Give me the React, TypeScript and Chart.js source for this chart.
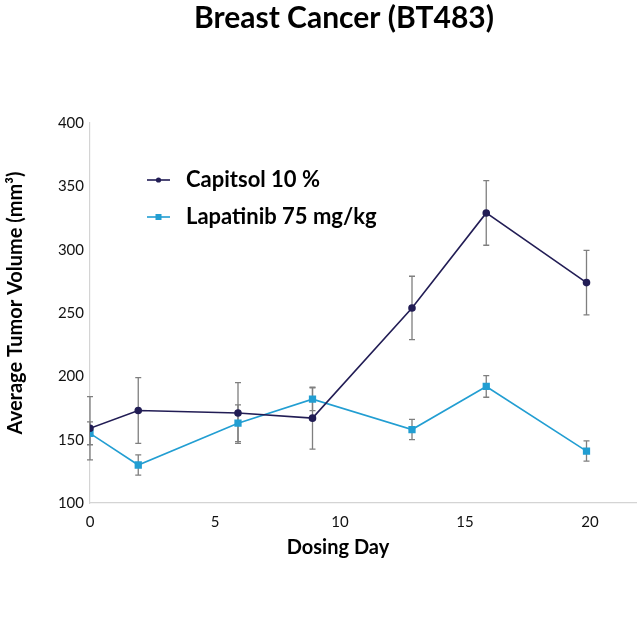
import React, { useEffect, useRef } from "react";
import { Chart, registerables } from "chart.js";

Chart.register(...registerables);

const days = [0, 1.93, 5.92, 8.9, 12.88, 15.85, 19.86];
const capitsolMean = [159, 173, 171, 167, 254, 329, 274];
const capitsolErr = [25, 26, 24, 24.5, 25, 25.5, 25.5];
const lapatinibMean = [155, 130, 163, 182, 158, 192, 141];
const lapatinibErr = [9, 8, 14.5, 9, 8, 8.5, 8];
const xTicks = [0, 5, 10, 15, 20];
const yTicks = [100, 150, 200, 250, 300, 350, 400];
const seriesNames = ["Capitsol 10 %", "Lapatinib 75 mg/kg"];
const titleText = "Breast Cancer (BT483)";
const xTitle = "Dosing Day";
const yTitle = "Average Tumor Volume (mm³)";

const NAVY = "#221d55";
const BLUE = "#229ed2";
const FONT = "Lato, 'Open Sans', sans-serif";

const errs = [capitsolErr, lapatinibErr];

const overlay = {
  id: "overlay",
  beforeDatasetsDraw(chart: any) {
    const ctx = chart.ctx;
    const xs = chart.scales.x;
    const ys = chart.scales.y;
    ctx.save();
    ctx.strokeStyle = "#7f7f7f";
    ctx.lineWidth = 1.3;
    chart.data.datasets.forEach((ds: any, di: number) => {
      ds.data.forEach((p: any, i: number) => {
        const x = xs.getPixelForValue(p.x);
        const yt = ys.getPixelForValue(p.y + errs[di][i]);
        const yb = ys.getPixelForValue(p.y - errs[di][i]);
        ctx.beginPath();
        ctx.moveTo(x, yt);
        ctx.lineTo(x, yb);
        ctx.moveTo(x - 3, yt);
        ctx.lineTo(x + 3, yt);
        ctx.moveTo(x - 3, yb);
        ctx.lineTo(x + 3, yb);
        ctx.stroke();
      });
    });
    ctx.restore();
  },
  afterDraw(chart: any) {
    const ctx = chart.ctx;
    ctx.save();
    ctx.fillStyle = "#000";
    ctx.textAlign = "center";
    ctx.textBaseline = "middle";
    ctx.font = `bold 30px ${FONT}`;
    ctx.fillText(titleText, 344, 18);
    ctx.font = `bold 20px ${FONT}`;
    ctx.fillText(xTitle, 338, 548);
    ctx.save();
    ctx.translate(16, 303);
    ctx.rotate(-Math.PI / 2);
    ctx.fillText(yTitle, 0, 0);
    ctx.restore();

    // legend
    const items = [
      { name: seriesNames[0], color: NAVY, y: 180, square: false },
      { name: seriesNames[1], color: BLUE, y: 217, square: true },
    ];
    items.forEach((it) => {
      ctx.strokeStyle = it.color;
      ctx.lineWidth = 1.6;
      ctx.beginPath();
      ctx.moveTo(147, it.y);
      ctx.lineTo(170, it.y);
      ctx.stroke();
      ctx.fillStyle = it.color;
      if (it.square) {
        ctx.fillRect(155.5, it.y - 3, 6, 6);
      } else {
        ctx.beginPath();
        ctx.arc(158.5, it.y, 2.6, 0, Math.PI * 2);
        ctx.fill();
      }
      ctx.fillStyle = "#000";
      ctx.textAlign = "left";
      ctx.font = `bold 22px ${FONT}`;
      ctx.fillText(it.name, 186, it.y);
    });
    ctx.restore();
  },
};

export default function App() {
  const ref = useRef<HTMLCanvasElement>(null);
  useEffect(() => {
    if (!ref.current) return;
    const chart = new Chart(ref.current, {
      type: "line",
      data: {
        datasets: [
          {
            label: seriesNames[0],
            data: days.map((d, i) => ({ x: d, y: capitsolMean[i] })),
            borderColor: NAVY,
            backgroundColor: NAVY,
            borderWidth: 1.6,
            pointStyle: "circle",
            pointRadius: 3,
            tension: 0,
          },
          {
            label: seriesNames[1],
            data: days.map((d, i) => ({ x: d, y: lapatinibMean[i] })),
            borderColor: BLUE,
            backgroundColor: BLUE,
            borderWidth: 1.6,
            pointStyle: "rect",
            pointRadius: 4,
            tension: 0,
          },
        ],
      },
      options: {
        animation: false,
        responsive: false,
        maintainAspectRatio: false,
        layout: { padding: { top: 123, right: 6, left: 0, bottom: 0 } },
        plugins: {
          legend: { display: false },
          title: { display: false },
          tooltip: { enabled: false },
        },
        scales: {
          x: {
            type: "linear",
            min: 0,
            max: 21.84,
            grid: { display: false, drawTicks: false },
            border: { color: "#d4d4d4", width: 1.2 },
            afterBuildTicks: (s: any) => {
              s.ticks = xTicks.map((v) => ({ value: v }));
            },
            afterFit: (s: any) => {
              s.height = 135;
            },
            ticks: {
              color: "#111",
              font: { family: FONT, size: 15 },
              padding: 10,
              maxRotation: 0,
              autoSkip: false,
            },
          },
          y: {
            min: 100,
            max: 400,
            grid: { display: false, drawTicks: false },
            border: { color: "#d4d4d4", width: 1.2 },
            afterBuildTicks: (s: any) => {
              s.ticks = yTicks.map((v) => ({ value: v }));
            },
            afterFit: (s: any) => {
              s.width = 90;
            },
            ticks: {
              color: "#111",
              font: { family: FONT, size: 15 },
              padding: 6,
              autoSkip: false,
            },
          },
        },
      },
      plugins: [overlay],
    } as any);
    return () => chart.destroy();
  }, []);
  return (
    <div style={{ position: "fixed", left: 0, top: 0, width: 642, height: 638, background: "#fff" }}>
      <canvas ref={ref} width={642} height={638} style={{ width: 642, height: 638 }} />
    </div>
  );
}
